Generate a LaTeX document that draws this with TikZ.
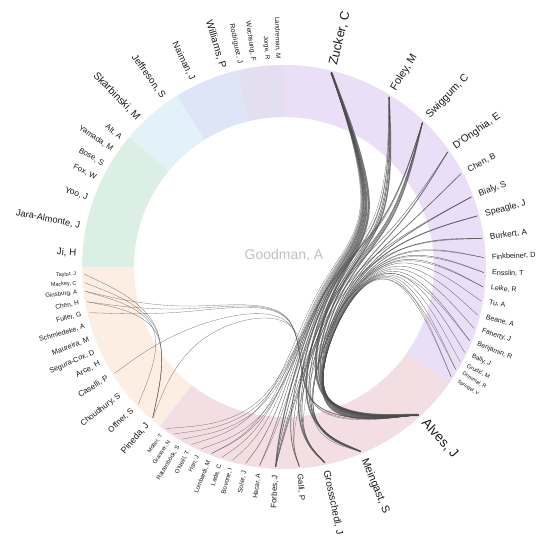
\documentclass[tikz,border=0pt]{standalone}
\usepackage{fontspec}
\setmainfont{Liberation Sans}
\usetikzlibrary{calc}

\definecolor{purp}{RGB}{234,223,246}
\definecolor{rose}{RGB}{243,222,228}
\definecolor{peach}{RGB}{253,238,227}
\definecolor{mint}{RGB}{220,239,229}
\definecolor{sky}{RGB}{226,242,248}
\definecolor{cornflower}{RGB}{222,229,247}
\definecolor{lilac}{RGB}{227,223,240}

% bundled chord: leaf a, group of a, group of b, leaf b (through the hub "root")
\newcommand{\chord}[5][]{%
  \path ($0.85*(#3)+0.1125*(#2)+0.0375*(#5)$) coordinate (q1)
        ($0.85*(root)+0.075*(#2)+0.075*(#5)$) coordinate (q2)
        ($0.85*(#4)+0.0375*(#2)+0.1125*(#5)$) coordinate (q3);
  \draw[chord,#1] (#2) -- ($0.8333*(#2)+0.1667*(q1)$)
    .. controls ($0.6667*(#2)+0.3333*(q1)$) and ($0.3333*(#2)+0.6667*(q1)$) .. ($0.1667*(#2)+0.6667*(q1)+0.1667*(q2)$)
    .. controls ($0.6667*(q1)+0.3333*(q2)$) and ($0.3333*(q1)+0.6667*(q2)$) .. ($0.1667*(q1)+0.6667*(q2)+0.1667*(q3)$)
    .. controls ($0.6667*(q2)+0.3333*(q3)$) and ($0.3333*(q2)+0.6667*(q3)$) .. ($0.1667*(q2)+0.6667*(q3)+0.1667*(#5)$)
    .. controls ($0.6667*(q3)+0.3333*(#5)$) and ($0.3333*(q3)+0.6667*(#5)$) .. ($0.1667*(q3)+0.8333*(#5)$)
    -- (#5);}

% chord inside one group: leaf a, group, leaf b
\newcommand{\selfchord}[4][]{%
  \path ($0.85*(#3)+0.075*(#2)+0.075*(#4)$) coordinate (q1);
  \draw[chord,#1] (#2) -- ($0.8333*(#2)+0.1667*(q1)$)
    .. controls ($0.6667*(#2)+0.3333*(q1)$) and ($0.3333*(#2)+0.6667*(q1)$) .. ($0.1667*(#2)+0.6667*(q1)+0.1667*(#4)$)
    .. controls ($0.6667*(q1)+0.3333*(#4)$) and ($0.3333*(q1)+0.6667*(#4)$) .. ($0.1667*(q1)+0.8333*(#4)$)
    -- (#4);}

\begin{document}
\begin{tikzpicture}
  [author/.style={inner sep=0pt, text=black!90},
   chord/.style={draw=black!70, draw opacity=.75, line width=.3pt}]
  \useasboundingbox (-284pt,-270pt) rectangle (266pt,267pt);

  % ring segments (angles clockwise from the top)
  \foreach \a/\b/\c in {0/125/purp, 125/218/rose, 218/270/peach, 270/310/mint,
                        310/328/sky, 328/346.6/cornflower, 346.6/360/lilac}
    \fill[\c] ({90-\a}:150pt) arc[start angle={90-\a}, end angle={90-\b}, radius=150pt]
      -- ({90-\b}:202pt) arc[start angle={90-\b}, end angle={90-\a}, radius=202pt] -- cycle;

  \node[text=black!25, font=\fontsize{14}{14}\selectfont] (ego) at (0,12pt) {Goodman, A};

  % right half
  \foreach \t/\s/\n/\l in {13.7/12.7/zucker/{Zucker, C}, 31.7/10.8/foley/{Foley, M},
      43.8/10.5/swiggum/{Swiggum, C}, 54.9/10.2/donghia/{D'Onghia, E},
      62.2/8.5/chenb/{Chen, B}, 69.5/8.7/bialy/{Bialy, S}, 75.2/8.8/speagle/{Speagle, J},
      81.8/8.4/burkert/{Burkert, A}, 87.3/7.4/finkbeiner/{Finkbeiner, D},
      91.6/7.2/ensslin/{Ensslin, T}, 95.7/7/leike/{Leike, R}, 99.8/7/tu/{Tu, A},
      104/7/beane/{Beane, A}, 107.9/6.9/faherty/{Faherty, J}, 111.7/6.8/benjamin/{Benjamin, R},
      115.3/6.4/bally/{Bally, J}, 118.3/5.8/grudic/{Grudić, M}, 120.8/5.4/drimmel/{Drimmel, R},
      123.3/5/springel/{Springel, V}, 137.7/13.5/alves/{Alves, J},
      157.4/11/meingast/{Meingast, S}, 168.2/9.8/grossschedl/{Grossschedl, J},
      175.6/8/galli/{Galli, P}}
  {
    \coordinate (\n) at ({90-\t}:200pt);
    \node[author, anchor=west, rotate=90-\t, font=\fontsize{\s}{\s}\selectfont]
      (n-\n) at ({90-\t}:208pt) {\l};
  }
  % left half
  \foreach \t/\s/\n/\l in {182.4/8/forbes/{Forbes, J}, 187/6.6/hacar/{Hacar, A},
      191/6.6/soler/{Soler, J}, 194.9/6.3/bovone/{Bovone, I}, 198/6.2/lada/{Lada, C},
      201.2/6.2/lombardi/{Lombardi, M}, 204.5/6/han/{Han, J}, 207.5/6/oneill/{O'Neill, T},
      210.6/6/ratzenboeck/{Ratzenböck, S}, 213.4/5.8/grasser/{Grasser, N},
      216.1/5.6/moeller/{Möller, T}, 221/9/pineda/{Pineda, J}, 226.7/8/offner/{Offner, S},
      232/8/choudhury/{Choudhury, S}, 237.9/8/caselli/{Caselli, P}, 242.4/7.8/arce/{Arce, H},
      245.8/7.3/seguracox/{Segura-Cox, D}, 249.6/7.3/maureira/{Maureira, M},
      253.4/7/schmiedeke/{Schmiedeke, A}, 256.8/6.8/fuller/{Fuller, G},
      260/6.5/chenh/{Chen, H}, 263/6.1/ginsburg/{Ginsburg, A}, 265.5/5.5/mackey/{Mackey, C},
      268/5.4/taylor/{Taylor, J}, 273.8/9.7/ji/{Ji, H}, 281.5/9.3/jara/{Jara-Almonte, J},
      289.4/8.7/yoo/{Yoo, J}, 295.5/7.8/fox/{Fox, W}, 299.7/7.8/bose/{Bose, S},
      304.4/7.8/yamada/{Yamada, M}, 308.4/7.8/alt/{Alt, A},
      315.6/10.3/skarbinski/{Skarbinski, M}, 324.6/9.6/jeffreson/{Jeffreson, S},
      334/9.2/naiman/{Naiman, J}, 343/10/williams/{Williams, P},
      347.8/7.2/rodriguez/{Rodriguez, J}, 351.6/6.8/wechsung/{Wechsung, F},
      355.4/6.2/jorge/{Jorge, R}, 358.4/6.5/landreman/{Landreman, M}}
  {
    \coordinate (\n) at ({90-\t}:200pt);
    \node[author, anchor=east, rotate=270-\t, font=\fontsize{\s}{\s}\selectfont]
      (n-\n) at ({90-\t}:208pt) {\l};
  }

  % hubs
  \coordinate (root) at (40pt,-14pt);
  \coordinate (gpurp) at (18:115pt);
  \coordinate (grose) at (-92:165pt);
  \coordinate (gpeach) at (-156:110pt);

  % co-author links
  \foreach \a/\b/\w in {zucker/alves/2.2, zucker/meingast/1.6, zucker/grossschedl/1.4,
      zucker/forbes/1.2, zucker/galli/.8, zucker/hacar/.5, zucker/soler/.5,
      foley/alves/1.4, foley/meingast/.8, foley/forbes/.6, foley/grossschedl/.6,
      swiggum/alves/1.2, swiggum/grossschedl/.7, swiggum/meingast/.6, swiggum/galli/.5,
      donghia/alves/.9, donghia/forbes/.5, chenb/alves/.8, bialy/alves/.8, bialy/forbes/.5,
      speagle/alves/.8, speagle/meingast/.4, burkert/alves/.7, burkert/forbes/.4,
      finkbeiner/alves/.5, finkbeiner/meingast/.3, ensslin/alves/.5, ensslin/meingast/.3,
      leike/alves/.5, leike/meingast/.3, tu/alves/.4, beane/alves/.4, faherty/alves/.4,
      benjamin/alves/.4, benjamin/grossschedl/.3, bally/alves/.4, grudic/alves/.3,
      drimmel/alves/.3, drimmel/galli/.3, springel/alves/.3, springel/meingast/.3,
      foley/hacar/.3, zucker/bovone/.3, zucker/lada/.3, zucker/lombardi/.3,
      foley/lombardi/.3, swiggum/han/.3, zucker/oneill/.3, swiggum/ratzenboeck/.3,
      swiggum/grasser/.3, swiggum/moeller/.3}
    \chord[line width=\w pt]{\a}{gpurp}{grose}{\b};
  \foreach \a/\b in {ginsburg/alves, chenh/alves, fuller/alves, caselli/alves, pineda/alves}
    \chord{\a}{gpeach}{grose}{\b};
  \foreach \a/\b in {taylor/pineda, mackey/pineda, ginsburg/offner, chenh/pineda}
    \selfchord{\a}{gpeach}{\b};
\end{tikzpicture}
\end{document}
